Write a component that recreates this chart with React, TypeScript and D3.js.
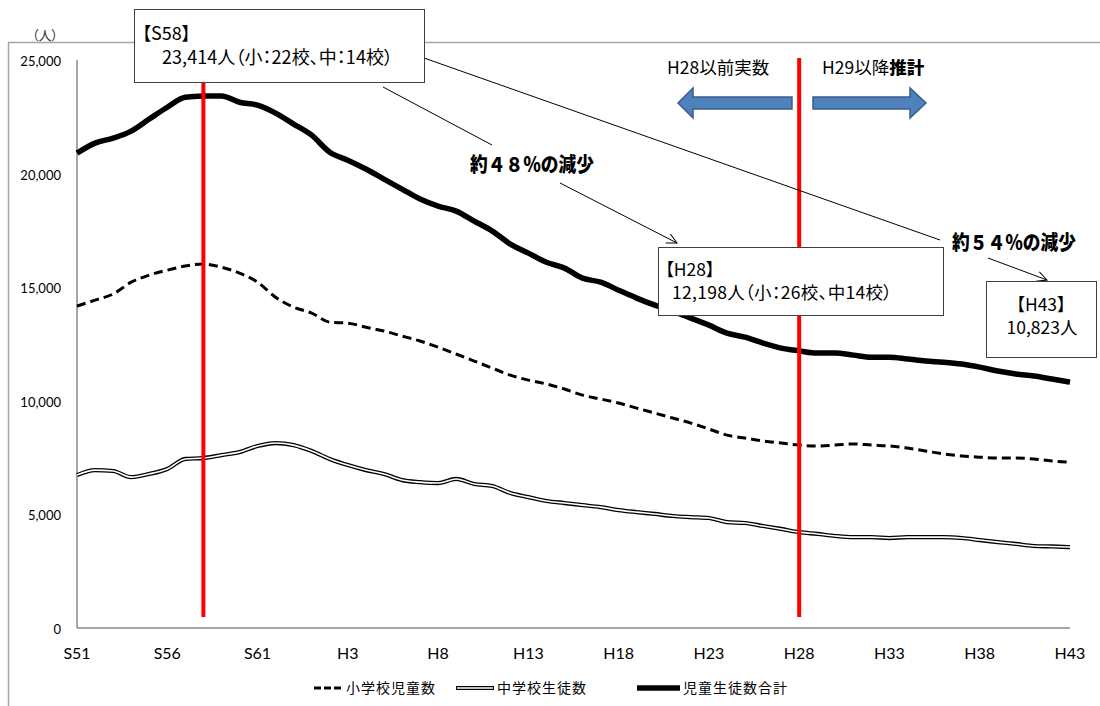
import React from "react";
import * as d3 from "d3";

const years = [
  "S51","S52","S53","S54","S55","S56","S57","S58","S59","S60","S61","S62","S63",
  "H1","H2","H3","H4","H5","H6","H7","H8","H9","H10","H11","H12","H13","H14","H15",
  "H16","H17","H18","H19","H20","H21","H22","H23","H24","H25","H26","H27","H28","H29",
  "H30","H31","H32","H33","H34","H35","H36","H37","H38","H39","H40","H41","H42","H43",
];

const tickLabels = ["S51","S56","S61","H3","H8","H13","H18","H23","H28","H33","H38","H43"];
const yTicks = [0, 5000, 10000, 15000, 20000, 25000];

const elementary = [
  14170,14430,14700,15220,15530,15750,15930,16020,15880,15620,15220,14560,14120,
  13860,13460,13420,13240,13070,12850,12630,12360,12060,11750,11440,11130,10910,10740,10520,
  10250,10080,9900,9680,9460,9240,9020,8760,8490,8360,8230,8140,8050,8010,
  8050,8100,8050,8010,7920,7790,7660,7570,7520,7480,7480,7440,7350,7300,
];

const junior = [
  6730,6950,6910,6640,6780,7000,7440,7480,7610,7740,8010,8140,8050,
  7790,7440,7170,6950,6780,6510,6420,6380,6560,6340,6250,5940,5760,5590,5500,
  5410,5320,5190,5100,5020,4930,4880,4840,4660,4620,4490,4360,4220,4140,
  4050,4000,4000,3960,4000,4000,4000,3960,3870,3780,3700,3610,3590,3560,
];

const total = [
  20900,21340,21560,21870,22400,22920,23360,23414,23420,23140,23010,22660,22180,
  21690,20940,20590,20200,19760,19320,18880,18570,18350,17910,17470,16900,16500,16100,15840,
  15400,15220,14870,14520,14210,13950,13640,13330,12980,12800,12540,12320,12198,12100,
  12100,12010,11920,11920,11840,11750,11700,11620,11480,11310,11180,11090,10960,10823,
];

const legendLabels = ["小学校児童数", "中学校生徒数", "児童生徒数合計"];

const JP = '"Noto Sans CJK JP", "Noto Sans", sans-serif';
const LAT = 'Lato, "Open Sans", "Noto Sans", sans-serif';

export default function App() {
  const x = d3.scalePoint<string>().domain(years).range([77, 1070]);
  const y = d3.scaleLinear().domain([0, 25000]).range([628, 60]);
  const line = d3
    .line<number>()
    .x((_, i) => x(years[i]) as number)
    .y((d) => y(d))
    .curve(d3.curveMonotoneX);
  const fmt = d3.format(",");

  const xS58 = x("S58") as number;
  const xH28 = x("H28") as number;
  const palt = { fontFeatureSettings: '"palt"' } as React.CSSProperties;

  return (
    <svg
      width={1100}
      height={706}
      style={{ position: "absolute", left: 0, top: 0, background: "#fff" }}
      fontFamily={JP}
    >
      <defs>
        <marker id="open" viewBox="0 0 12 12" refX="11" refY="6" markerWidth="12" markerHeight="12" markerUnits="userSpaceOnUse" orient="auto">
          <path d="M1,1 L11,6 L1,11" fill="none" stroke="#000" strokeWidth={1} />
        </marker>
      </defs>

      {/* outer frame */}
      <rect x={8.5} y={42.5} width={1200} height={800} fill="#fff" stroke="#a6a6a6" strokeWidth={1.5} />
      <text x={45} y={40} fontSize={13} textAnchor="middle" fill="#333" style={palt}>（人）</text>

      {/* axes */}
      <line x1={77} x2={77} y1={y(25000)} y2={y(0)} stroke="#888" strokeWidth={1.5} />
      <line x1={77} x2={1070} y1={y(0)} y2={y(0)} stroke="#888" strokeWidth={1.5} />
      {yTicks.map((t) => (
        <text key={t} x={61} y={y(t) + 6} fontSize={13} textAnchor="end" fill="#000" fontFamily={LAT}>
          {fmt(t)}
        </text>
      ))}
      {tickLabels.map((t) => (
        <text key={t} x={x(t) as number} y={659} fontSize={16} textAnchor="middle" fill="#000" fontFamily={LAT}>
          {t}
        </text>
      ))}

      {/* series */}
      <path d={line(junior) || ""} fill="none" stroke="#000" strokeWidth={4.2} strokeLinejoin="round" />
      <path d={line(junior) || ""} fill="none" stroke="#fff" strokeWidth={1.6} strokeLinejoin="round" />
      <path d={line(elementary) || ""} fill="none" stroke="#000" strokeWidth={3} strokeDasharray="9,5" />
      <path d={line(total) || ""} fill="none" stroke="#000" strokeWidth={5.5} strokeLinejoin="round" />

      {/* red marker lines */}
      <line x1={xS58} x2={xS58} y1={82} y2={617} stroke="#ff0000" strokeWidth={4} />
      <line x1={xH28} x2={xH28} y1={58} y2={617} stroke="#ff0000" strokeWidth={4} />

      {/* annotation leader lines */}
      <line x1={383} y1={87} x2={492} y2={145} stroke="#000" strokeWidth={1} />
      <line x1={560} y1={183} x2={677} y2={243} stroke="#000" strokeWidth={1} markerEnd="url(#open)" />
      <line x1={424} y1={58} x2={940} y2={240} stroke="#000" strokeWidth={1} />
      <line x1={988} y1={258} x2={1047} y2={280} stroke="#000" strokeWidth={1} markerEnd="url(#open)" />

      {/* S58 box */}
      <rect x={134.5} y={9.5} width={290} height={73} fill="#fff" stroke="#404040" strokeWidth={1} />
      <text x={142} y={40} fontSize={18} fill="#000" style={palt}>【S58】</text>
      <text x={162} y={64} fontSize={18} fill="#000" style={palt} textLength={231} lengthAdjust="spacing">23,414人（小：22校、中：14校）</text>

      {/* H28 box */}
      <rect x={658.5} y={247.5} width={285} height={68} fill="#fff" stroke="#404040" strokeWidth={1} />
      <text x={665} y={276} fontSize={17.5} fill="#000" style={palt}>【H28】</text>
      <text x={672} y={299} fontSize={17.5} fill="#000" style={palt} textLength={220} lengthAdjust="spacing">12,198人（小：26校、中14校）</text>

      {/* H43 box */}
      <rect x={986.5} y={281.5} width={110} height={76} fill="#fff" stroke="#404040" strokeWidth={1} />
      <text x={1041} y={311} fontSize={17.5} textAnchor="middle" fill="#000" style={palt}>【H43】</text>
      <text x={1042} y={334} fontSize={17.5} textAnchor="middle" fill="#000" style={palt}>10,823人</text>

      {/* reduction labels */}
      <text x={470} y={172} fontSize={20} fontWeight={900} fill="#000" textLength={124} lengthAdjust="spacingAndGlyphs">約４８％の減少</text>
      <text x={952} y={250} fontSize={20} fontWeight={900} fill="#000" textLength={124} lengthAdjust="spacingAndGlyphs">約５４％の減少</text>

      {/* actual / estimate arrows */}
      <text x={667} y={74} fontSize={17.5} fill="#000">H28以前実数</text>
      <text x={822} y={74} fontSize={17.5} fill="#000">
        H29以降<tspan fontWeight={900}>推計</tspan>
      </text>
      <polygon
        points="678,103 693,88 693,97 792,97 792,109 693,109 693,118"
        fill="#4f81bd"
        stroke="#385d8a"
        strokeWidth={1.5}
      />
      <polygon
        points="813,97 910,97 910,88 926,103 910,118 910,109 813,109"
        fill="#4f81bd"
        stroke="#385d8a"
        strokeWidth={1.5}
      />

      {/* legend */}
      <line x1={314} x2={341} y1={688} y2={688} stroke="#000" strokeWidth={3} strokeDasharray="7,3" />
      <text x={346} y={693} fontSize={14} letterSpacing={1} fill="#000">{legendLabels[0]}</text>
      <line x1={456} x2={494} y1={688} y2={688} stroke="#000" strokeWidth={4.2} />
      <line x1={457} x2={493} y1={688} y2={688} stroke="#fff" strokeWidth={1.6} />
      <text x={497} y={693} fontSize={14} letterSpacing={1} fill="#000">{legendLabels[1]}</text>
      <line x1={637} x2={680} y1={688} y2={688} stroke="#000" strokeWidth={5.5} />
      <text x={683} y={693} fontSize={14} letterSpacing={1} fill="#000">{legendLabels[2]}</text>
    </svg>
  );
}
